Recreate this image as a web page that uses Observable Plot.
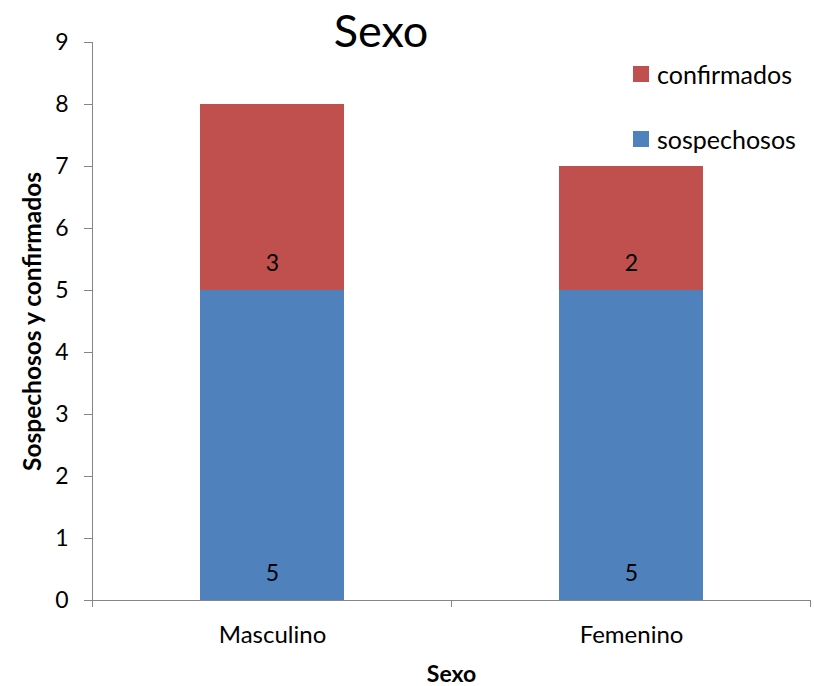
<!DOCTYPE html>
<html>
<head>
<meta charset="utf-8">
<script src="https://cdn.jsdelivr.net/npm/d3@7"></script>
<script src="https://cdn.jsdelivr.net/npm/@observablehq/plot@0.6"></script>
<style>
  body { margin: 0; background: #fff; }
  #wrap { position: relative; width: 814px; height: 686px; font-family: Lato, "Open Sans", sans-serif; }
  #title { position: absolute; left: 0; width: 762px; top: 3px; text-align: center; font-size: 45px; color: #000; }
  .leg { position: absolute; left: 633px; display: flex; align-items: center; font-size: 25px; color: #000; line-height: 30px; }
  .leg span.sw { display: inline-block; width: 16px; height: 16px; margin-right: 8px; }
</style>
</head>
<body>
<div id="wrap">
  <div id="title">Sexo</div>
</div>
<script>
const categories = ["Masculino", "Femenino"];
const series = ["sospechosos", "confirmados"];
const sospechosos = [5, 5];
const confirmados = [3, 2];
const yTicks = [0, 1, 2, 3, 4, 5, 6, 7, 8, 9];
const colors = ["#4F81BD", "#C0504D"];
const title = "Sexo";
const xLabel = "Sexo";
const yLabel = "Sospechosos y confirmados";

const data = categories.flatMap((c, i) => [
  {sexo: c, serie: series[0], value: sospechosos[i]},
  {sexo: c, serie: series[1], value: confirmados[i]}
]);

const font = "Lato, 'Open Sans', sans-serif";
const W = 814, H = 686, mT = 42, mB = 86, mL = 92, mR = 4;

const chart = Plot.plot({
  width: W,
  height: H,
  marginTop: mT,
  marginBottom: mB,
  marginLeft: mL,
  marginRight: mR,
  style: {fontFamily: font, background: "#fff"},
  x: {domain: categories, paddingInner: 0.6, paddingOuter: 0.3, label: null},
  y: {domain: [0, 9], label: null},
  color: {domain: series, range: colors},
  marks: [
    Plot.barY(data, {x: "sexo", y: "value", fill: "serie", order: series}),
    Plot.text(data, Plot.stackY1({x: "sexo", y: "value", z: "serie", order: series, text: "value", dy: -27, fontSize: 23, fill: "#000"})),
    Plot.frame({anchor: "left", stroke: "#868686"}),
    Plot.frame({anchor: "bottom", stroke: "#868686"}),
    Plot.axisY({ticks: yTicks, tickFormat: d => String(d), tickSize: 8, tickPadding: 16, fontSize: 23, stroke: "#868686", color: "#000", label: null}),
    Plot.axisX({tickSize: 0, tickPadding: 25, fontSize: 24, label: null}),
    Plot.text([xLabel], {frameAnchor: "bottom", dy: 81, fontSize: 23, fontWeight: "bold", text: d => d}),
    Plot.text([yLabel], {frameAnchor: "left", textAnchor: "middle", dx: -59, rotate: -90, fontSize: 24.5, fontWeight: "bold", text: d => d})
  ]
});

// boundary ticks between categories (Excel style), from the plot's x scale
const xs = chart.scale("x");
const bounds = categories.map(c => xs.apply(c) + xs.bandwidth / 2 - xs.step / 2);
bounds.push(xs.apply(categories[categories.length - 1]) + xs.bandwidth / 2 + xs.step / 2);
const yBase = chart.scale("y").apply(0);
const g = d3.select(chart).append("g").attr("stroke", "#868686").attr("stroke-width", 1);
bounds.forEach(px => {
  g.append("line").attr("x1", px).attr("x2", px).attr("y1", yBase).attr("y2", yBase + 7);
});

const wrap = document.getElementById("wrap");
wrap.insertBefore(chart, wrap.firstChild);
chart.style.position = "absolute";
chart.style.left = "0";
chart.style.top = "0";

// legend (confirmados on top, sospechosos below)
const legendTops = {confirmados: 59, sospechosos: 124};
[...series].reverse().forEach(s => {
  const d = document.createElement("div");
  d.className = "leg";
  d.style.top = legendTops[s] + "px";
  const sw = document.createElement("span");
  sw.className = "sw";
  sw.style.background = colors[series.indexOf(s)];
  d.appendChild(sw);
  d.appendChild(document.createTextNode(s));
  wrap.appendChild(d);
});
</script>
</body>
</html>
